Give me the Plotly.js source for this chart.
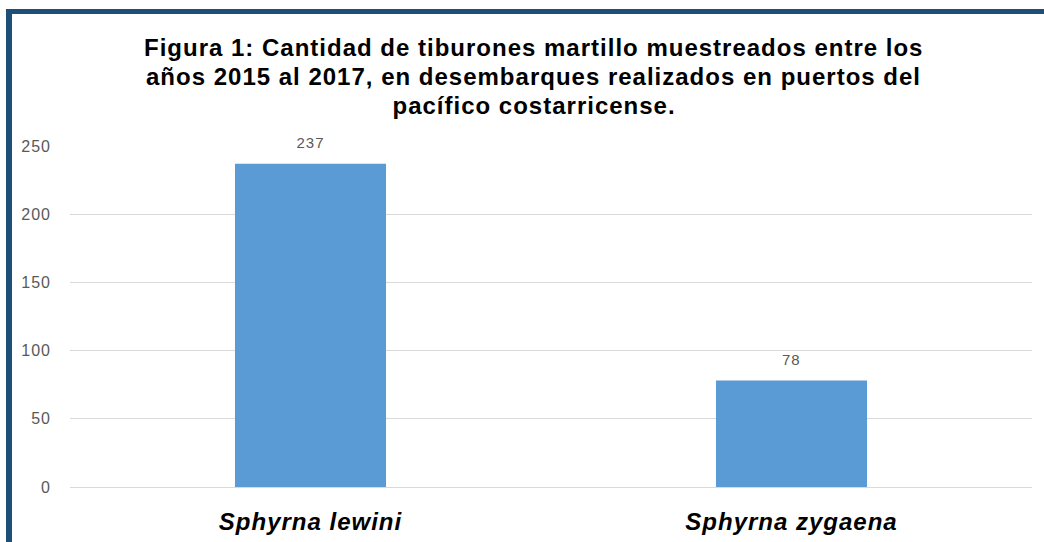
<!DOCTYPE html>
<html>
<head>
<meta charset="utf-8">
<script src="https://cdn.plot.ly/plotly-3.0.1.min.js"></script>
<style>
  html, body { margin: 0; padding: 0; background: #ffffff; }
  #wrap { position: relative; width: 1044px; height: 542px; overflow: hidden; }
  #chart { position: absolute; left: 0; top: 0; width: 1044px; height: 542px; }
  #bl { position: absolute; left: 6px; top: 9px; width: 6px; height: 533px; background: #1F4E79; }
  #bt { position: absolute; left: 6px; top: 9px; width: 1038px; height: 5px; background: #1F4E79; }
  #chart .annotation-text { letter-spacing: 1px; }
  #chart .xtick text { letter-spacing: 1px; }
  #chart .ytick text { letter-spacing: 1px; }
</style>
</head>
<body>
<div id="wrap">
  <div id="chart"></div>
  <div id="bl"></div>
  <div id="bt"></div>
</div>
<script>
const categories = ["Sphyrna lewini", "Sphyrna zygaena"];
const values = [237, 78];
const yTicks = [0, 50, 100, 150, 200, 250];
const titleLines = [
  "Figura 1: Cantidad de tiburones martillo muestreados entre los",
  "años 2015 al 2017, en desembarques realizados en puertos del",
  "pacífico costarricense."
];
const titleLineY = [1.290, 1.205, 1.120];

const FONT = "Liberation Sans, Arial, sans-serif";

const trace = {
  type: "bar",
  x: categories,
  y: values,
  width: 0.314,
  marker: { color: "#5B9BD5" },
  hoverinfo: "none"
};

const labelAnnotations = categories.map((c, i) => ({
  x: c, y: values[i], xref: "x", yref: "y",
  text: String(values[i]),
  showarrow: false,
  yanchor: "bottom",
  yshift: 11,
  font: { family: FONT, size: 15, color: "#595959" }
}));

const titleAnnotations = titleLines.map((t, i) => ({
  x: 0.482, y: titleLineY[i], xref: "paper", yref: "paper",
  xanchor: "center", yanchor: "middle",
  text: "<b>" + t + "</b>",
  showarrow: false,
  font: { family: FONT, size: 24, color: "#000000" }
}));

const layout = {
  width: 1044, height: 542,
  margin: { l: 70, r: 12, t: 146, b: 55 },
  paper_bgcolor: "rgba(0,0,0,0)",
  plot_bgcolor: "#ffffff",
  showlegend: false,
  xaxis: {
    tickvals: categories,
    ticktext: categories.map(c => "<b><i>" + c + "</i></b>"),
    tickfont: { family: FONT, size: 24, color: "#000000" },
    showgrid: false, zeroline: false, showline: false,
    ticks: "", ticklabelstandoff: 18
  },
  yaxis: {
    range: [0, 250],
    tickvals: yTicks,
    ticktext: yTicks.map(String),
    tickfont: { family: FONT, size: 16, color: "#595959" },
    showgrid: true, gridcolor: "#d9d9d9", gridwidth: 1,
    zeroline: true, zerolinecolor: "#d9d9d9", zerolinewidth: 1,
    showline: false, ticks: "", ticklabelstandoff: 18
  },
  annotations: titleAnnotations.concat(labelAnnotations)
};

Plotly.newPlot("chart", [trace], layout, { displayModeBar: false, staticPlot: true });
</script>
</body>
</html>
